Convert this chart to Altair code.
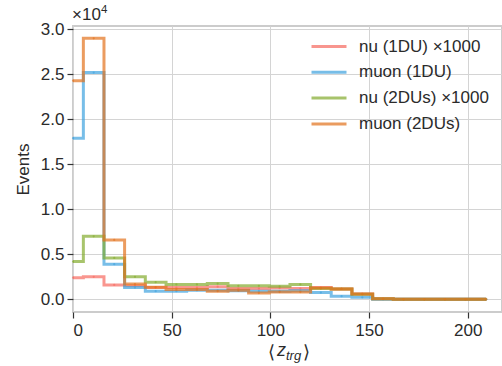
import altair as alt
import pandas as pd

# bin centres along <z_trg>
centers = [0.0, 10.5, 20.9, 31.4, 41.9, 52.4, 62.8, 73.3, 83.8, 94.2, 104.7,
           115.2, 125.6, 136.1, 146.6, 157.1, 167.5, 178.0, 188.5, 198.9, 209.4]

# event counts per bin (nu series already scaled by 1000)
nu_1du = [2400, 2500, 1600, 1500, 1300, 1300, 1300, 1400, 1200, 1200, 1250,
          1200, 1300, 1150, 600, 50, 0, 0, 0, 0, 0]
muon_1du = [17900, 25200, 3900, 1300, 900, 900, 1000, 1000, 950, 900, 900,
            950, 750, 350, 220, 0, 0, 0, 0, 0, 0]
nu_2dus = [4200, 7000, 4600, 2500, 1900, 1650, 1650, 1750, 1500, 1500, 1450,
           1650, 1200, 1150, 550, 50, 0, 0, 0, 0, 0]
muon_2dus = [24300, 29000, 6600, 1700, 1350, 1100, 1100, 900, 1000, 700, 800,
             800, 1250, 1150, 600, 50, 0, 0, 0, 0, 0]

series_names = ["nu (1DU) ×1000", "muon (1DU)", "nu (2DUs) ×1000", "muon (2DUs)"]
series_colors = ["#f6695f", "#3ea2de", "#83ab2d", "#e2721c"]
series_values = [nu_1du, muon_1du, nu_2dus, muon_2dus]

rows = []
for name, vals in zip(series_names, series_values):
    for x, v in zip(centers, vals):
        rows.append({"z": x, "events": v, "series": name})
df = pd.DataFrame(rows)

FONT = "Liberation Sans"
W, H = 429, 286

color = alt.Color(
    "series:N",
    scale=alt.Scale(domain=series_names, range=series_colors),
    legend=alt.Legend(
        title=None, orient="none", legendX=245.5, legendY=10,
        symbolType="M-2,0H2", symbolSize=306, symbolStrokeWidth=3,
        symbolFillColor="transparent",
        symbolOpacity=0.7, labelFont=FONT, labelFontSize=17,
        labelColor="#2b2b2b", rowPadding=6.8, labelOffset=19.5,
    ),
)

x = alt.X("z:Q", scale=alt.Scale(domain=[0, 217.4], nice=False),
          axis=alt.Axis(values=[0, 50, 100, 150, 200], title=None))
y = alt.Y("y:Q", scale=alt.Scale(domain=[-0.141, 3.037], nice=False, zero=False),
          axis=alt.Axis(values=[0, 0.5, 1.0, 1.5, 2.0, 2.5, 3.0], format=".1f",
                        title="Events"))

layers = []
for name in series_names:
    base = alt.Chart(df).transform_filter(alt.datum.series == name).transform_calculate(
        y="datum.events / 10000")
    layers.append(base.mark_line(interpolate="step", strokeWidth=3, opacity=0.7)
                  .encode(x=x, y=y, color=color))
    layers.append(base.mark_circle(size=5, opacity=0.6)
                  .encode(x=x, y=y, color=color))

# axis annotations: offset multiplier and x label with subscript
lab = pd.DataFrame({"t": [""]})
def txt(s, px, py, size, italic=False, align="left"):
    return alt.Chart(lab).mark_text(
        text=s, font=FONT, fontSize=size, color="#2b2b2b", align=align,
        baseline="alphabetic", fontStyle="italic" if italic else "normal",
    ).encode(x=alt.value(px), y=alt.value(py))

annots = [
    txt("×10", -1, -6, 17),
    txt("4", 28, -13, 11.5),
    txt("⟨", 195, 332, 18),
    txt("z", 204, 330, 18, italic=True),
    txt("trg", 213, 334, 13, italic=True),
    txt("⟩", 230, 332, 18),
]

chart = alt.layer(*layers, *annots).properties(
    width=W, height=H,
    autosize=alt.AutoSizeParams(type="none"),
    padding={"left": 73, "top": 26, "right": 0, "bottom": 54},
).configure_view(
    stroke="#cccccc", strokeWidth=2,
).configure_axis(
    labelFont=FONT, labelFontSize=17, labelColor="#2b2b2b",
    titleFont=FONT, titleFontSize=17, titleFontWeight="normal", titleColor="#2b2b2b",
    grid=True, gridColor="#d4d4d4", gridWidth=1,
    domain=False, tickColor="#333333", tickSize=6, tickWidth=1.2,
    labelPadding=3,
).configure_axisY(
    titlePadding=8,
).configure_axisX(
    labelPadding=4,
)

chart.save("out.html", embed_options={"renderer": "svg", "actions": False})
